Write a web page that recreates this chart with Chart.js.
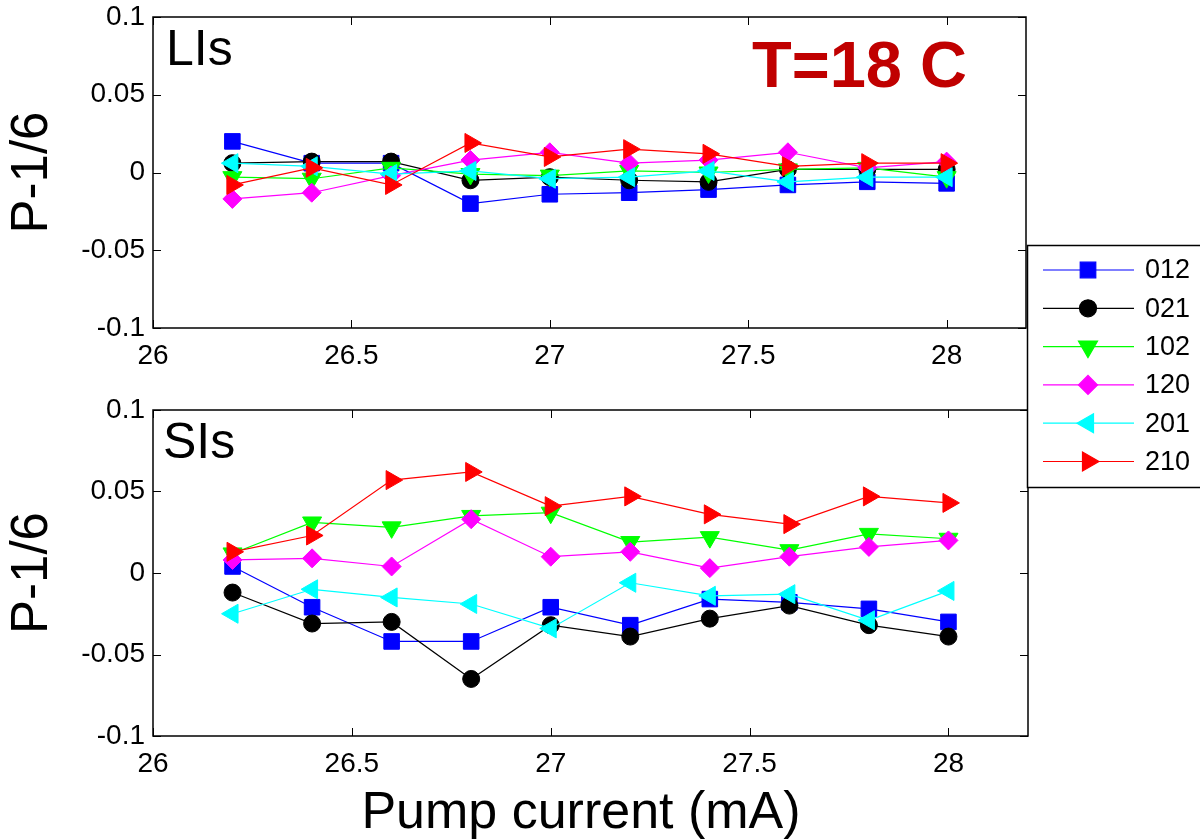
<!DOCTYPE html>
<html>
<head>
<meta charset="utf-8">
<title>P-1/6 vs pump current, T=18 C</title>
<script src="https://cdn.jsdelivr.net/npm/chart.js"></script>
<style>
  html, body { margin: 0; padding: 0; background: #fff; }
  #wrap { position: relative; width: 1200px; height: 839px; overflow: hidden; }
  #wrap canvas { position: absolute; left: 0; top: 0; }
</style>
</head>
<body>
<div id="wrap">
  <canvas id="lower" width="1200" height="839"></canvas>
  <canvas id="upper" width="1200" height="839"></canvas>
</div>
<script>
// x values (pump current, mA)
var pumpCurrent = [26.2, 26.4, 26.6, 26.8, 27.0, 27.2, 27.4, 27.6, 27.8, 28.0];
var seriesNames = ['012', '021', '102', '120', '201', '210'];

// LIs panel (top)
var lis012 = [0.020, 0.006, 0.006, -0.020, -0.014, -0.013, -0.011, -0.008, -0.006, -0.007];
var lis021 = [0.006, 0.007, 0.007, -0.005, -0.003, -0.005, -0.006, 0.002, 0.002, 0.002];
var lis102 = [-0.003, -0.004, 0.003, -0.001, -0.002, 0.001, 0.000, 0.002, 0.003, -0.003];
var lis120 = [-0.017, -0.013, -0.002, 0.008, 0.013, 0.006, 0.008, 0.013, 0.003, 0.007];
var lis201 = [0.006, 0.004, -0.001, 0.001, -0.004, -0.003, 0.001, -0.006, -0.003, -0.003];
var lis210 = [-0.008, 0.003, -0.008, 0.019, 0.010, 0.015, 0.012, 0.004, 0.006, 0.006];

// SIs panel (bottom)
var sis012 = [0.004, -0.021, -0.042, -0.042, -0.021, -0.032, -0.016, -0.018, -0.022, -0.030];
var sis021 = [-0.012, -0.031, -0.030, -0.065, -0.032, -0.039, -0.028, -0.020, -0.032, -0.039];
var sis102 = [0.012, 0.031, 0.028, 0.035, 0.037, 0.019, 0.022, 0.014, 0.024, 0.021];
var sis120 = [0.008, 0.009, 0.004, 0.033, 0.010, 0.013, 0.003, 0.010, 0.016, 0.020];
var sis201 = [-0.025, -0.010, -0.015, -0.019, -0.034, -0.006, -0.014, -0.013, -0.029, -0.011];
var sis210 = [0.013, 0.023, 0.057, 0.062, 0.041, 0.047, 0.036, 0.030, 0.047, 0.043];

// axis ticks
var xTicks = [26, 26.5, 27, 27.5, 28];
var yTicks = [-0.1, -0.05, 0, 0.05, 0.1];

// matlab-ish styles, one per series
var lineColors = ['#0000ff', '#000000', '#00ff00', '#ff00ff', '#00ffff', '#ff0000'];
var markers = [
  { style: 'rect', rot: 0, r: 11 },
  { style: 'circle', rot: 0, r: 8.5 },
  { style: 'triangle', rot: 180, r: 11 },
  { style: 'rectRot', rot: 0, r: 9.5 },
  { style: 'triangle', rot: 270, r: 11 },
  { style: 'triangle', rot: 90, r: 11 }
];

var FONT = '"Liberation Sans", Arial, sans-serif';
Chart.defaults.font.family = FONT;
Chart.defaults.color = '#000';

// box around plot area + inward ticks on all four sides
var framePlugin = {
  id: 'frame',
  afterDraw: function(chart) {
    var ctx = chart.ctx, a = chart.chartArea;
    var xs = chart.scales.x, ys = chart.scales.y;
    ctx.save();
    ctx.strokeStyle = '#000';
    ctx.lineWidth = 1.5;
    ctx.strokeRect(a.left, a.top, a.right - a.left, a.bottom - a.top);
    ctx.lineWidth = 1;
    ctx.beginPath();
    xTicks.forEach(function(v) {
      var px = Math.round(xs.getPixelForValue(v)) + 0.5;
      ctx.moveTo(px, a.bottom); ctx.lineTo(px, a.bottom - 8);
      ctx.moveTo(px, a.top); ctx.lineTo(px, a.top + 8);
    });
    yTicks.forEach(function(v) {
      var py = Math.round(ys.getPixelForValue(v)) + 0.5;
      ctx.moveTo(a.left, py); ctx.lineTo(a.left + 8, py);
      ctx.moveTo(a.right, py); ctx.lineTo(a.right - 8, py);
    });
    ctx.stroke();
    ctx.restore();
  }
};

// text written on the figure (panel name, temperature, x label)
var notesPlugin = {
  id: 'notes',
  afterDraw: function(chart, args, opts) {
    var ctx = chart.ctx;
    ctx.save();
    (opts.items || []).forEach(function(t) {
      ctx.font = t.font;
      ctx.fillStyle = t.color || '#000';
      ctx.textAlign = t.align || 'left';
      ctx.textBaseline = 'alphabetic';
      ctx.fillText(t.text, t.x, t.y);
    });
    ctx.restore();
  }
};

// legend box sitting between the two panels on the right
var sideLegend = {
  id: 'sideLegend',
  afterDraw: function(chart, args, opts) {
    if (!opts.show) return;
    var ctx = chart.ctx;
    ctx.save();
    ctx.fillStyle = '#fff';
    ctx.fillRect(1027, 245, 180, 242);
    ctx.strokeStyle = '#000';
    ctx.lineWidth = 1.5;
    ctx.strokeRect(1027.5, 245.5, 180, 242);
    chart.data.datasets.forEach(function(ds, i) {
      var y = 270 + i * 38.3;
      ctx.strokeStyle = ds.borderColor;
      ctx.lineWidth = 1.2;
      ctx.beginPath();
      ctx.moveTo(1043, y); ctx.lineTo(1134, y);
      ctx.stroke();
      ctx.fillStyle = ds.backgroundColor;
      Chart.helpers.drawPoint(ctx, {
        pointStyle: ds.pointStyle, rotation: ds.rotation,
        radius: ds.pointRadius, borderWidth: 1
      }, 1088, y);
      ctx.fillStyle = '#000';
      ctx.font = '27px ' + FONT;
      ctx.textAlign = 'left';
      ctx.textBaseline = 'middle';
      ctx.fillText(ds.label, 1145, y + 1);
    });
    ctx.restore();
  }
};

function fmt(v) {
  return String(parseFloat(Number(v).toFixed(2)));
}

function makePanel(canvasId, series, area, extra) {
  var datasets = [];
  for (var i = 0; i < seriesNames.length; i++) {
    var vals = series[i];
    datasets.push({
      label: seriesNames[i],
      data: pumpCurrent.map(function(x, j) { return { x: x, y: vals[j] }; }),
      borderColor: lineColors[i],
      backgroundColor: lineColors[i],
      borderWidth: 1.2,
      pointStyle: markers[i].style,
      rotation: markers[i].rot,
      pointRadius: markers[i].r,
      pointBorderWidth: 1,
      tension: 0,
      fill: false,
      order: seriesNames.length - i
    });
  }

  return new Chart(document.getElementById(canvasId).getContext('2d'), {
    type: 'line',
    data: { datasets: datasets },
    plugins: [framePlugin, notesPlugin, sideLegend],
    options: {
      responsive: false,
      animation: false,
      devicePixelRatio: 1,
      layout: { padding: { top: area.top, right: 1200 - area.right, left: 0, bottom: 0 } },
      plugins: {
        legend: { display: false },
        tooltip: { enabled: false },
        notes: { items: extra.notes },
        sideLegend: { show: !!extra.legend }
      },
      scales: {
        x: {
          type: 'linear',
          min: 26, max: 28.2,
          grid: { display: false, drawTicks: false },
          border: { display: false },
          afterBuildTicks: function(s) { s.ticks = xTicks.map(function(v) { return { value: v }; }); },
          afterFit: function(s) {
            s.height = 839 - area.bottom;
            s.paddingLeft = 0; s.paddingRight = 0;
          },
          ticks: { font: { size: 28 }, color: '#000', padding: 11, maxRotation: 0, callback: fmt }
        },
        y: {
          min: -0.1, max: 0.1,
          grid: { display: false, drawTicks: false },
          border: { display: false },
          afterBuildTicks: function(s) { s.ticks = yTicks.map(function(v) { return { value: v }; }); },
          afterFit: function(s) {
            s.width = area.left;
            s.paddingTop = 0; s.paddingBottom = 0;
          },
          ticks: { font: { size: 28 }, color: '#000', padding: 8, callback: fmt },
          title: { display: true, text: 'P-1/6', color: '#000', font: { size: 51 }, padding: { top: 2, bottom: 0 } }
        }
      }
    }
  });
}

makePanel('lower', [sis012, sis021, sis102, sis120, sis201, sis210],
  { left: 153, top: 410, right: 1028, bottom: 736 },
  {
    notes: [
      { text: 'SIs', x: 163, y: 458, font: '50px ' + FONT },
      { text: 'Pump current (mA)', x: 581, y: 828, align: 'center', font: '52px ' + FONT }
    ]
  });

makePanel('upper', [lis012, lis021, lis102, lis120, lis201, lis210],
  { left: 153, top: 17, right: 1026, bottom: 328 },
  {
    legend: true,
    notes: [
      { text: 'LIs', x: 166, y: 65, font: '50px ' + FONT },
      { text: 'T=18 C', x: 752, y: 87, font: 'bold 65px ' + FONT, color: '#c00000' }
    ]
  });
</script>
</body>
</html>
